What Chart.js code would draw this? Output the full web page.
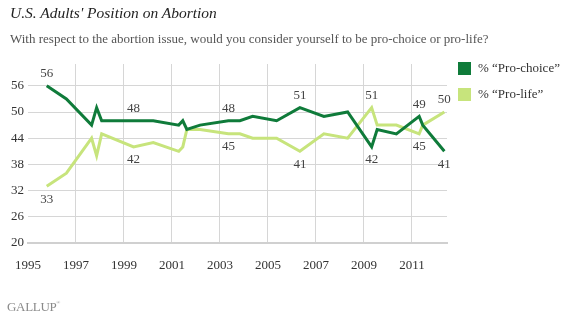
<!DOCTYPE html>
<html>
<head>
<meta charset="utf-8">
<script src="https://cdn.jsdelivr.net/npm/chart.js@4.4.1/dist/chart.umd.min.js"></script>
<style>
  html, body { margin: 0; padding: 0; background: #fff; }
  #wrap { position: relative; width: 570px; height: 321px; font-family: "Liberation Serif", Georgia, serif; color: #333; }
  #chart { position: absolute; left: 0; top: 0; }
  .title { position: absolute; left: 10px; top: 4px; font-size: 15.5px; font-style: italic; color: #222; white-space: nowrap; }
  .subtitle { position: absolute; left: 10px; top: 31px; font-size: 13px; color: #555; white-space: nowrap; }
  .legend { position: absolute; left: 458px; top: 61px; font-size: 13px; color: #333; }
  .legend div { position: relative; height: 26px; white-space: nowrap; }
  .legend span.sw { position: absolute; left: 0; top: 1px; width: 13px; height: 13px; }
  .legend span.tx { position: absolute; left: 20px; top: -1px; }
  .brand { position: absolute; left: 7px; top: 299px; font-size: 13px; color: #8a8a8a; letter-spacing: -0.3px; }
  .brand sup { font-size: 5px; vertical-align: 7px; }
</style>
</head>
<body>
<div id="wrap">
  <canvas id="chart" width="570" height="321"></canvas>
  <div class="title">U.S. Adults' Position on Abortion</div>
  <div class="subtitle">With respect to the abortion issue, would you consider yourself to be pro-choice or pro-life?</div>
  <div class="legend">
    <div><span class="sw" style="background:#0f7b3a"></span><span class="tx">% “Pro-choice”</span></div>
    <div><span class="sw" style="background:#c7e47c"></span><span class="tx">% “Pro-life”</span></div>
  </div>
  <div class="brand">GALLUP<sup>®</sup></div>
</div>
<script>
// survey dates as decimal years
const surveyDates = [1995.78, 1996.6, 1997.65, 1997.86, 1998.07, 1999.4, 2000.22, 2001.28,
  2001.45, 2001.62, 2002.17, 2003.35, 2003.83, 2004.36, 2005.36, 2006.33, 2007.33, 2008.32,
  2009.32, 2009.55, 2010.35, 2011.3, 2011.45, 2012.35];
const proChoice = [56, 53, 47, 51, 48, 48, 48, 47, 48, 46, 47, 48, 48, 49, 48, 51, 49, 50, 42, 46, 45, 49, 47, 41];
const proLife   = [33, 36, 44, 40, 45, 42, 43, 41, 42, 46, 46, 45, 45, 44, 44, 41, 45, 44, 51, 47, 47, 45, 47, 50];

const xTicks = [1995, 1997, 1999, 2001, 2003, 2005, 2007, 2009, 2011];
const yTicks = [20, 26, 32, 38, 44, 50, 56];

// which points get a value label, and on which side of the line
const choiceAbove = [0, 5, 11, 15, 21];
const choiceBelow = [18, 23];
const lifeAbove = [18, 23];
const lifeBelow = [0, 5, 11, 15, 21];

const DARK = '#0f7b3a';
const LIGHT = '#c7e47c';
const GRID = '#d6d6d6';

const valueLabels = {
  id: 'valueLabels',
  afterDatasetsDraw(chart) {
    const ctx = chart.ctx;
    const xs = chart.scales.x, ys = chart.scales.y;
    ctx.save();
    ctx.font = '13px "Liberation Serif", Georgia, serif';
    ctx.fillStyle = '#444';
    ctx.textAlign = 'center';
    ctx.textBaseline = 'middle';
    const put = (values, idx, dy) => {
      idx.forEach(i => {
        ctx.fillText(String(values[i]), xs.getPixelForValue(surveyDates[i]), ys.getPixelForValue(values[i]) + dy);
      });
    };
    put(proChoice, choiceAbove, -12);
    put(proChoice, choiceBelow, 13);
    put(proLife, lifeAbove, -12);
    put(proLife, lifeBelow, 13);
    ctx.restore();
  }
};

const lineSet = (label, values, color) => ({
  label: label,
  data: surveyDates.map((d, i) => ({ x: d, y: values[i] })),
  borderColor: color,
  backgroundColor: color,
  borderWidth: 3,
  pointRadius: 0,
  tension: 0,
  fill: false
});

new Chart(document.getElementById('chart'), {
  type: 'line',
  data: {
    datasets: [
      lineSet('% “Pro-choice”', proChoice, DARK),
      lineSet('% “Pro-life”', proLife, LIGHT)
    ]
  },
  options: {
    responsive: false,
    animation: false,
    layout: { padding: { top: 64, right: 123, left: 0, bottom: 0 } },
    plugins: { legend: { display: false }, tooltip: { enabled: false } },
    scales: {
      x: {
        type: 'linear',
        min: 1995,
        max: 2012.46,
        afterBuildTicks: s => { s.ticks = xTicks.map(v => ({ value: v })); },
        afterFit: s => { s.height = 78; },
        grid: {
          color: c => (c.tick && c.tick.value === 1995) ? 'rgba(0,0,0,0)' : GRID,
          lineWidth: 1,
          drawTicks: false
        },
        border: { color: '#d0d0d0', width: 2 },
        ticks: {
          padding: 15,
          maxRotation: 0,
          color: '#333',
          font: { family: '"Liberation Serif", Georgia, serif', size: 13 },
          callback: v => String(v)
        }
      },
      y: {
        min: 20,
        max: 61,
        afterBuildTicks: s => { s.ticks = yTicks.map(v => ({ value: v })); },
        afterFit: s => { s.width = 28; },
        grid: {
          color: c => (c.tick && c.tick.value === 20) ? 'rgba(0,0,0,0)' : GRID,
          lineWidth: 1,
          drawTicks: false
        },
        border: { display: false },
        ticks: {
          padding: 4,
          color: '#333',
          font: { family: '"Liberation Serif", Georgia, serif', size: 13 },
          callback: v => String(v)
        }
      }
    }
  },
  plugins: [valueLabels]
});
</script>
</body>
</html>
